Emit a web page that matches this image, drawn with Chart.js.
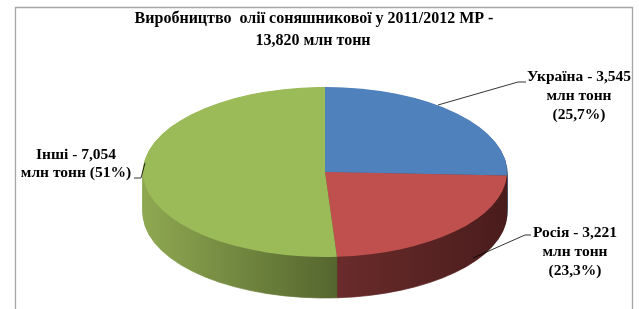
<!DOCTYPE html>
<html><head><meta charset="utf-8">
<script src="https://cdn.jsdelivr.net/npm/chart.js@4.4.0/dist/chart.umd.min.js"></script>
<style>html,body{margin:0;padding:0;background:#fff;}#wrap{width:639px;height:309px;position:relative;}</style>
</head><body><div id="wrap"><canvas id="c"></canvas></div>
<script>
const categories = ['Україна', 'Росія', 'Інші'];
const values = [3.545, 3.221, 7.054];
const valueLabels = ['3,545', '3,221', '7,054'];
const percentLabels = ['25,7%', '23,3%', '51%'];
const unitLabel = 'млн тонн';
const titleLines = ['Виробництво  олії соняшникової у 2011/2012 МР -', '13,820 млн тонн'];
const topColors = ['#4f81bd', '#c0504d', '#9bbb59'];
const sideColors = [['#3b618f', '#2c4a6e'], ['#6a2b2b', '#4a1c1c'], ['#8ea851', '#55662e']];

const RX = 182, RY = 85, DEPTH = 41;
const K = RY / RX;
const TITLE_FONT = 'bold 16px "Liberation Serif", "Times New Roman", serif';
const LABEL_FONT = 'bold 15.5px "Liberation Serif", "Times New Roman", serif';

function sideGradient(ctx, i, cx) {
  let x0, x1;
  if (i === 2) { x0 = cx - RX; x1 = cx + 12; }
  else { x0 = cx + 12; x1 = cx + RX; }
  const g = ctx.createLinearGradient(x0, 0, x1, 0);
  g.addColorStop(0, sideColors[i][0]);
  g.addColorStop(1, sideColors[i][1]);
  return g;
}

const pie3d = {
  id: 'pie3d',
  beforeDatasetsDraw(chart) {
    const ctx = chart.ctx;
    const meta = chart.getDatasetMeta(0);
    const cx = meta.data[0].x, cy = meta.data[0].y;
    const grads = meta.data.map((a, i) => sideGradient(ctx, i, cx));
    for (let d = DEPTH; d >= 1; d--) {
      ctx.save();
      ctx.translate(cx, cy + d);
      ctx.scale(1, K);
      ctx.translate(-cx, -cy);
      meta.data.forEach((arc, i) => {
        const fake = Object.create(arc);
        fake.options = Object.assign({}, arc.options, {backgroundColor: grads[i], borderColor: grads[i], borderWidth: 1});
        arc.draw.call(fake, ctx);
      });
      ctx.restore();
    }
    ctx.save();
    ctx.translate(cx, cy);
    ctx.scale(1, K);
    ctx.translate(-cx, -cy);
  },
  afterDatasetsDraw(chart) {
    chart.ctx.restore();
  },
  afterDraw(chart) {
    const ctx = chart.ctx;
    ctx.save();
    ctx.strokeStyle = '#a6a6a6';
    ctx.lineWidth = 1.3;
    ctx.beginPath();
    ctx.moveTo(15.5, 320); ctx.lineTo(15.5, 7.5); ctx.lineTo(632.5, 7.5); ctx.lineTo(632.5, 320);
    ctx.stroke();
    ctx.fillStyle = '#000';
    ctx.font = TITLE_FONT;
    ctx.textAlign = 'center';
    ctx.textBaseline = 'middle';
    ctx.fillText(titleLines[0], 314, 19);
    ctx.fillText(titleLines[1], 313, 41);
    ctx.strokeStyle = '#000';
    ctx.lineWidth = 0.8;
    const leaders = [
      [[438, 105], [518, 82], [526, 82]],
      [[473, 258], [525, 235], [531, 235]],
      [[145, 163], [141, 178], [134, 178]]
    ];
    leaders.forEach(pts => {
      ctx.beginPath();
      ctx.moveTo(pts[0][0], pts[0][1]);
      for (let j = 1; j < pts.length; j++) ctx.lineTo(pts[j][0], pts[j][1]);
      ctx.stroke();
    });
    ctx.font = LABEL_FONT;
    const lab = [
      {x: 579, ys: [77, 96, 115], lines: [categories[0] + ' - ' + valueLabels[0], unitLabel, '(' + percentLabels[0] + ')']},
      {x: 575, ys: [233, 252, 271], lines: [categories[1] + ' - ' + valueLabels[1], unitLabel, '(' + percentLabels[1] + ')']},
      {x: 76, ys: [155, 173], lines: [categories[2] + ' - ' + valueLabels[2], unitLabel + ' (' + percentLabels[2] + ')']}
    ];
    lab.forEach(l => l.lines.forEach((t, j) => ctx.fillText(t, l.x, l.ys[j])));
    ctx.restore();
  }
};

new Chart(document.getElementById('c'), {
  type: 'pie',
  data: {
    labels: categories,
    datasets: [{
      data: values,
      backgroundColor: topColors,
      borderWidth: 0,
      radius: RX,
      clip: false
    }]
  },
  options: {
    responsive: true,
    maintainAspectRatio: false,
    animation: false,
    events: [],
    layout: {padding: {left: 11, right: 0, top: 35, bottom: 0}},
    plugins: {legend: {display: false}, title: {display: false}, tooltip: {enabled: false}}
  },
  plugins: [pie3d]
});
</script>
</body></html>
